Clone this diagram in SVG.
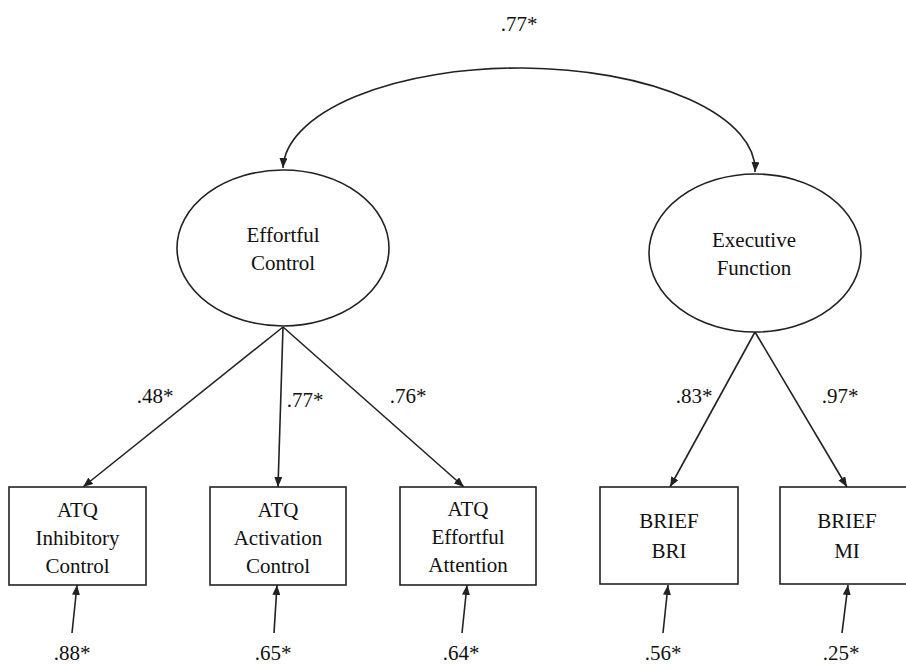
<svg xmlns="http://www.w3.org/2000/svg" width="906" height="669" viewBox="0 0 906 669" font-family="'Liberation Serif', 'DejaVu Serif', 'Times New Roman', serif">
<style>
text{font-family:'Liberation Serif','DejaVu Serif','Times New Roman',serif;font-size:21px;fill:#111;text-anchor:middle}
.shape{fill:#fff;stroke:#222;stroke-width:1.6}
.conn{fill:none;stroke:#222;stroke-width:1.6}
</style>
<defs>
<marker id="ah" viewBox="0 0 10 8" refX="10" refY="4" markerWidth="10" markerHeight="8" markerUnits="userSpaceOnUse" orient="auto-start-reverse">
<path d="M0,0 L10,4 L0,8 Z" fill="#222"/>
</marker>
</defs>
<rect width="906" height="669" fill="#fff"/>
<g id="connectors">
<path class="conn" d="M283,168 A236,102 0 0 1 755,172" marker-start="url(#ah)" marker-end="url(#ah)"/>
<line class="conn" x1="283" y1="327" x2="83" y2="487" marker-end="url(#ah)"/>
<line class="conn" x1="283" y1="327" x2="278" y2="487" marker-end="url(#ah)"/>
<line class="conn" x1="283" y1="327" x2="464" y2="487" marker-end="url(#ah)"/>
<line class="conn" x1="755" y1="332" x2="670" y2="487" marker-end="url(#ah)"/>
<line class="conn" x1="755" y1="332" x2="847" y2="487" marker-end="url(#ah)"/>
<line class="conn" x1="72" y1="633" x2="77" y2="585" marker-end="url(#ah)"/>
<line class="conn" x1="274" y1="633" x2="277" y2="585" marker-end="url(#ah)"/>
<line class="conn" x1="462" y1="633" x2="467" y2="585" marker-end="url(#ah)"/>
<line class="conn" x1="663" y1="633" x2="668" y2="585" marker-end="url(#ah)"/>
<line class="conn" x1="842" y1="633" x2="848" y2="585" marker-end="url(#ah)"/>
</g>
<g id="labels">
<text x="519" y="31">.77*</text>
<text x="155" y="403">.48*</text>
<text x="305" y="407">.77*</text>
<text x="408" y="403">.76*</text>
<text x="694" y="403">.83*</text>
<text x="840" y="403">.97*</text>
<text x="72" y="660">.88*</text>
<text x="273" y="660">.65*</text>
<text x="461" y="660">.64*</text>
<text x="663" y="660">.56*</text>
<text x="841" y="660">.25*</text>
</g>
<g id="effortful-control">
<ellipse class="shape" cx="283" cy="248" rx="106" ry="78"/>
<text x="283" y="242">Effortful</text>
<text x="283" y="270">Control</text>
</g>
<g id="executive-function">
<ellipse class="shape" cx="755" cy="253" rx="106" ry="79"/>
<text x="754" y="247">Executive</text>
<text x="754" y="275">Function</text>
</g>
<g id="atq-inhibitory">
<rect class="shape" x="9" y="487" width="137" height="98"/>
<text x="77.5" y="517">ATQ</text>
<text x="77.5" y="545">Inhibitory</text>
<text x="77.5" y="573">Control</text>
</g>
<g id="atq-activation">
<rect class="shape" x="210" y="487" width="136" height="98"/>
<text x="278" y="517">ATQ</text>
<text x="278" y="545">Activation</text>
<text x="278" y="573">Control</text>
</g>
<g id="atq-attention">
<rect class="shape" x="400" y="487" width="136" height="98"/>
<text x="468" y="516">ATQ</text>
<text x="468" y="544">Effortful</text>
<text x="468" y="572">Attention</text>
</g>
<g id="brief-bri">
<rect class="shape" x="600" y="487" width="138" height="97"/>
<text x="669" y="528">BRIEF</text>
<text x="669" y="558">BRI</text>
</g>
<g id="brief-mi">
<rect class="shape" x="780" y="487" width="136" height="97"/>
<text x="847" y="528">BRIEF</text>
<text x="847" y="558">MI</text>
</g>
</svg>
